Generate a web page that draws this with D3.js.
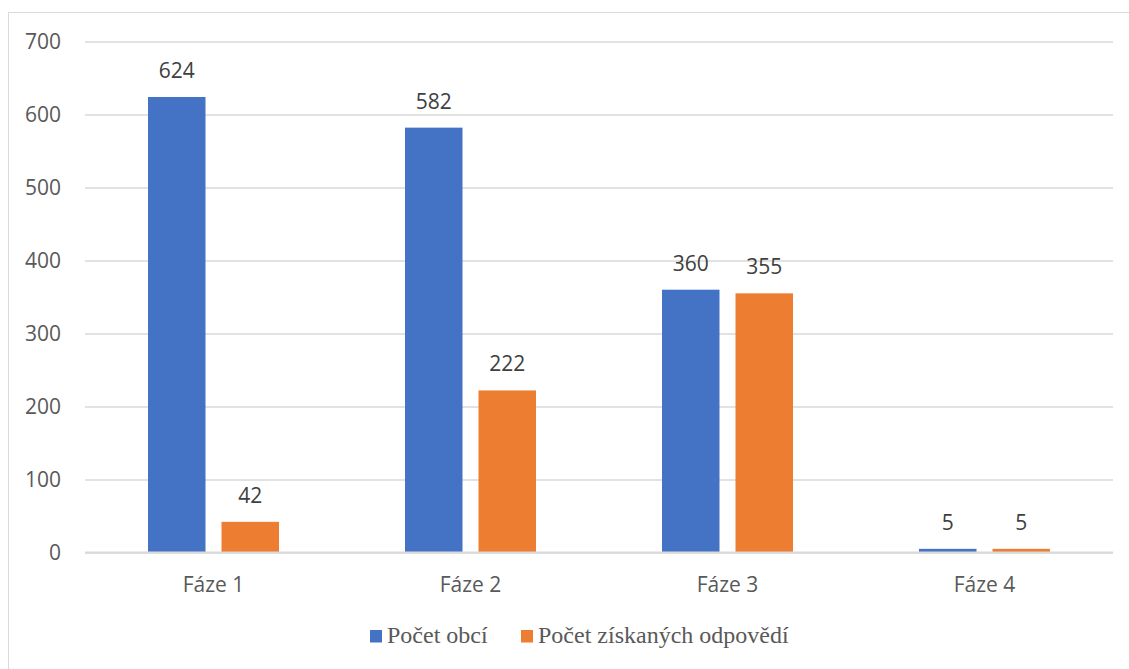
<!DOCTYPE html>
<html>
<head>
<meta charset="utf-8">
<script src="https://cdn.jsdelivr.net/npm/d3@7"></script>
<style>
  html, body { margin: 0; padding: 0; background: #fff; }
  svg { display: block; }
</style>
</head>
<body>
<svg id="chart" width="1129" height="669"></svg>
<script>
// Survey phases and counts per phase
const categories = ["Fáze 1", "Fáze 2", "Fáze 3", "Fáze 4"];
const seriesNames = ["Počet obcí", "Počet získaných odpovědí"];
const municipalities = [624, 582, 360, 5];
const responses = [42, 222, 355, 5];
const yTicks = [0, 100, 200, 300, 400, 500, 600, 700];
const colors = ["#4472c4", "#ed7d31"];

const svg = d3.select("#chart");
const W = 1129, H = 669;
const plot = { left: 85, right: 1113, top: 41.5, bottom: 552.5 };
const sansFont = "'Open Sans', 'Noto Sans', sans-serif";

// Outer frame of the chart area
svg.append("rect")
  .attr("x", 8.5).attr("y", 12.5)
  .attr("width", W + 10).attr("height", H + 10)
  .attr("fill", "none").attr("stroke", "#d9d9d9").attr("stroke-width", 1);

const x0 = d3.scaleBand().domain(categories).range([plot.left, plot.right]).paddingInner(0).paddingOuter(0);
const x1 = d3.scaleBand().domain(seriesNames).range([63, x0.bandwidth() - 63]).paddingInner(0.2177).paddingOuter(0);
const y = d3.scaleLinear().domain([0, 700]).range([plot.bottom, plot.top]);

// Horizontal gridlines and value axis labels
const yAxis = d3.axisLeft(y).tickValues(yTicks).tickSize(-(plot.right - plot.left)).tickFormat(d3.format("d")).tickPadding(24);
const gy = svg.append("g").attr("transform", `translate(${plot.left},0)`).call(yAxis);
gy.select(".domain").remove();
gy.selectAll(".tick line").attr("stroke", "#d9d9d9").attr("stroke-width", 1.3);
gy.selectAll(".tick text")
  .attr("fill", "#595959")
  .style("font-family", sansFont)
  .style("font-size", "21px");

const rows = categories.map((c, i) => ({ cat: c, vals: [municipalities[i], responses[i]] }));

const groups = svg.append("g").selectAll("g").data(rows).join("g")
  .attr("transform", d => `translate(${x0(d.cat)},0)`);

groups.selectAll("rect").data(d => d.vals.map((v, k) => ({ k, v }))).join("rect")
  .attr("x", d => x1(seriesNames[d.k]))
  .attr("width", x1.bandwidth())
  .attr("y", d => y(d.v))
  .attr("height", d => y(0) - y(d.v))
  .attr("fill", d => colors[d.k]);

groups.selectAll("text.val").data(d => d.vals.map((v, k) => ({ k, v }))).join("text")
  .attr("class", "val")
  .attr("x", d => x1(seriesNames[d.k]) + x1.bandwidth() / 2)
  .attr("y", d => y(d.v) - 19)
  .attr("text-anchor", "middle")
  .attr("fill", "#404040")
  .style("font-family", sansFont)
  .style("font-size", "21px")
  .text(d => d.v);

// Baseline
svg.append("line")
  .attr("x1", plot.left).attr("x2", plot.right)
  .attr("y1", y(0)).attr("y2", y(0))
  .attr("stroke", "#d9d9d9").attr("stroke-width", 2);

// Category axis labels
const xAxis = d3.axisBottom(x0).tickSize(0).tickPadding(24.5);
const gx = svg.append("g").attr("transform", `translate(0,${plot.bottom})`).call(xAxis);
gx.select(".domain").remove();
gx.selectAll(".tick text")
  .attr("fill", "#595959")
  .style("font-family", sansFont)
  .style("font-size", "21px");

// Legend
const legendItems = [{ x: 370, name: seriesNames[0], c: colors[0] }, { x: 521, name: seriesNames[1], c: colors[1] }];
const lg = svg.append("g");
legendItems.forEach(it => {
  lg.append("rect").attr("x", it.x).attr("y", 630).attr("width", 12).attr("height", 12.5).attr("fill", it.c);
  lg.append("text").attr("x", it.x + 17).attr("y", 643)
    .attr("fill", "#595959")
    .style("font-family", "'Liberation Serif', 'DejaVu Serif', serif")
    .style("font-size", "24px")
    .text(it.name);
});
</script>
</body>
</html>
